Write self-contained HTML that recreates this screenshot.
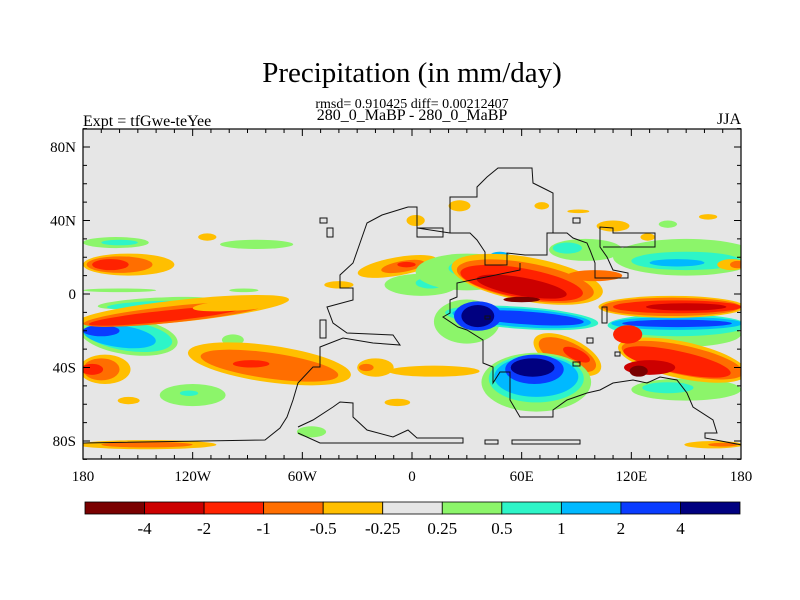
<!DOCTYPE html>
<html><head><meta charset="utf-8"><style>
body{margin:0;background:#fff;}
svg{display:block;font-family:"Liberation Serif",serif;}
</style></head><body>
<svg id="c" width="800" height="600" viewBox="0 0 800 600" xmlns="http://www.w3.org/2000/svg">
<defs><clipPath id="pc"><rect x="83" y="129" width="658" height="330"/></clipPath></defs>
<text x="412" y="82" text-anchor="middle" font-size="29">Precipitation (in mm/day)</text>
<text x="412" y="108" text-anchor="middle" font-size="14">rmsd= 0.910425 diff= 0.00212407</text>
<text x="412" y="120" text-anchor="middle" font-size="16">280_0_MaBP - 280_0_MaBP</text>
<text x="83" y="126" font-size="16">Expt = tfGwe-teYee</text>
<text x="741" y="124" text-anchor="end" font-size="16">JJA</text>
<rect x="83" y="129" width="658" height="330" fill="#e6e6e6"/>
<g id="blobs" clip-path="url(#pc)"></g>
<g id="coast" clip-path="url(#pc)" fill="none" stroke="#111" stroke-width="1"></g>
<rect x="83" y="129" width="658" height="330" fill="none" stroke="#000" stroke-width="1.2"/>
<g id="axes"></g>
<g id="cbar"></g>
</svg>
<script>
const colors=["#7a0000","#cc0000","#ff2200","#ff6e00","#ffbf00","#e6e6e6","#8cf56a","#2ef5c8","#00b9ff","#0a3cff","#000080"];
const cbarLabels=["-4","-2","-1","-0.5","-0.25","0.25","0.5","1","2","4"];
const latTicks=[80,40,0,-40,-80];
const lonTicks=[-180,-120,-60,0,60,120,180];
const lonLabels=["180","120W","60W","0","60E","120E","180"];
// anomaly blobs: [lon, lat, halfWidthDeg, halfHeightDeg, level, tiltDeg]
const blobs=[
[-162,28,18,3,6,0],[-160,28,10,1.5,7,0],
[-155,16,25,6,4,0],[-160,16,18,4.5,3,0],[-165,16,10,3,2,0],
[-160,2,20,1,6,0],[-92,2,8,1,6,0],[-112,31,5,2,4,0],[-85,27,20,2.5,6,0],
[-155,-23,27,10,6,8],[-155,-23,24,8,7,8],[-160,-23,20,6,8,8],[-170,-20,10,3,9,0],
[-140,-5,32,3,6,-3],[-145,-6,22,2,7,-3],
[-125,-9,58,6,4,-6],[-130,-11,50,4.5,3,-6],[-135,-12,42,3,2,-6],[-95,-6,25,3,4,-4],
[-98,-25,6,3,6,0],
[-78,-38,45,10,4,8],[-78,-39,38,7,3,8],[-88,-38,10,2,2,0],
[-168,-41,14,8,4,0],[-170,-41,10,6,3,0],[-175,-41,6,3,2,0],
[-120,-55,18,6,6,0],[-122,-54,5,1.5,7,0],[-155,-58,6,2,4,0],
[-145,-82,38,2.5,4,0],[-145,-82,25,1.5,3,0],
[-55,-75,8,3,6,0],[-20,-40,10,5,4,0],[-25,-40,4,2,3,0],[12,-42,25,3,4,0],[-8,-59,7,2,4,0],
[-8,15,22,5,4,-10],[-5,15,12,3,3,-10],[-3,16,5,1.5,2,0],[-40,5,8,2,4,0],
[2,40,5,3,4,0],[26,48,6,3,4,0],[71,48,4,2,4,0],[91,45,6,1,4,0],[110,37,9,3,4,0],[129,31,4,2,4,0],[140,38,5,2,6,0],[162,42,5,1.5,4,0],
[5,5,20,6,6,0],[10,6,8,3,7,0],
[30,12,28,10,6,0],[35,14,15,5,7,0],[48,20,6,3,8,0],[37,7,6,2,9,0],
[95,24,20,6,6,0],[85,25,8,3,7,0],
[150,20,40,10,6,0],[150,18,30,5,7,0],[145,17,15,2,8,0],[175,16,8,3,4,0],[178,16,4,2,3,0],
[30,-15,18,12,6,0],
[63,8,42,12,4,10],[62,7,38,10,3,10],[60,6,34,8,2,10],[60,4,25,5,1,10],[60,-3,10,1.5,0,0],[100,10,15,3,3,0],
[60,-13,42,6,7,4],[60,-13,38,5,8,4],[62,-13,32,3.5,9,4],[36,-12,13,8,9,0],[36,-12,9,6,10,0],
[145,-22,35,7,6,0],[145,-17,38,6,7,0],[145,-16,36,3.5,8,0],[145,-16,30,2,9,0],
[142,-7,40,6,4,0],[142,-7,38,5,3,0],[145,-7,35,3.5,2,0],[150,-7,22,2,1,0],
[150,-52,30,6,6,0],[140,-51,14,3,7,0],
[148,-36,36,10,4,12],[148,-36,34,8,3,12],[145,-37,30,6,2,12],[130,-40,14,4,1,0],[124,-42,5,3,0,0],
[118,-22,8,5,2,0],
[85,-33,20,9,4,25],[85,-33,17,7,3,25],[90,-33,8,3,2,25],
[68,-48,30,16,6,0],[68,-46,26,13,7,0],[68,-45,23,11,8,0],[67,-41,16,8,9,0],[66,-40,12,5,10,0],
[165,-82,16,2,4,0],[170,-82,8,1,3,0]
];
const NS="http://www.w3.org/2000/svg";
const X=lon=>412+lon*658/360, Y=lat=>294-lat*1.8375;
const sx=658/360, sy=1.8375;
const bg=document.getElementById('blobs');
blobs.forEach(b=>{
 const e=document.createElementNS(NS,'ellipse');
 const cx=X(b[0]),cy=Y(b[1]);
 e.setAttribute('cx',cx);e.setAttribute('cy',cy);
 e.setAttribute('rx',b[2]*sx);e.setAttribute('ry',b[3]*sy);
 e.setAttribute('fill',colors[b[4]]);
 if(b[5])e.setAttribute('transform','rotate('+b[5]+' '+cx+' '+cy+')');
 
 
 bg.appendChild(e);
});
const coastLines=[
"408,207 382,215 367,223 360,243 353,263 340,275 340,288 353,288 353,300 327,307 333,323 347,333 393,335 400,345 373,343 343,338 320,347 320,367 313,367 298,383 293,400 287,417 280,428 265,440 83,443",
"298,427 313,420 333,407 340,402 353,403 353,417 367,430 393,437 408,430 417,438 463,438 463,443 320,443 298,433",
"408,207 417,207 417,228 443,228 443,237 417,237 417,210",
"417,210 417,228 450,233 470,233 477,240 485,252 485,265 507,265 507,253 525,255 547,255 547,233 567,233 573,238 587,243 590,250 595,263 595,278 628,278 628,273 613,270 607,257 600,247 600,227 613,228 613,233 655,233 655,247 603,247",
"450,233 450,197 477,197 477,187 487,177 498,168 532,168 533,183 547,190 553,193 553,233",
"520,263 520,270 457,283 457,297 450,300 450,313 443,317 458,327 467,330 483,340 483,363 493,367 493,383 500,372 510,372 510,400 520,417 553,417 553,410 567,400 587,393 600,390 613,383 633,380 647,383 660,377 677,380 687,393 693,407 713,420 717,433 705,433 705,438 742,445"
];
const boxes=[[485,440,498,444],[512,440,580,444],[320,218,327,223],[327,228,333,237],[320,320,326,338],[573,218,580,223],[602,307,607,323],[485,316,490,319],[587,338,593,343],[615,352,620,356],[573,362,580,366]];
const cg=document.getElementById('coast');
coastLines.forEach(p=>{const l=document.createElementNS(NS,'polyline');l.setAttribute('points',p);
 
 
 cg.appendChild(l);});
boxes.forEach(b=>{const r=document.createElementNS(NS,'rect');r.setAttribute('x',b[0]);r.setAttribute('y',b[1]);r.setAttribute('width',b[2]-b[0]);r.setAttribute('height',b[3]-b[1]);
 
 
 cg.appendChild(r);});
const ax=document.getElementById('axes');
function line(x1,y1,x2,y2){const l=document.createElementNS(NS,'line');l.setAttribute('x1',x1);l.setAttribute('y1',y1);l.setAttribute('x2',x2);l.setAttribute('y2',y2);l.setAttribute('stroke','#000');
 
 
 ax.appendChild(l);}
for(let lat=-90;lat<=90;lat+=10){const y=Y(lat);const m=lat%40===0?7:4;line(83,y,83+m,y);line(741,y,741-m,y);}
for(let lon=-180;lon<=180;lon+=10){const x=X(lon);const m=lon%60===0?7:4;line(x,129,x,129+m);line(x,459,x,459-m);}
latTicks.forEach(v=>{const t=document.createElementNS(NS,'text');t.setAttribute('x',76);t.setAttribute('y',Y(v)+5);t.setAttribute('text-anchor','end');t.setAttribute('font-size','15');
 t.textContent=v===0?'0':Math.abs(v)+(v>0?'N':'S');
 
 
 ax.appendChild(t);});
lonTicks.forEach((v,i)=>{const t=document.createElementNS(NS,'text');t.setAttribute('x',X(v));t.setAttribute('y',481);t.setAttribute('text-anchor','middle');t.setAttribute('font-size','15');
 t.textContent=lonLabels[i];
 
 
 ax.appendChild(t);});
const cb=document.getElementById('cbar');const x0=85,w=(740-85)/11;
colors.forEach((c,i)=>{const r=document.createElementNS(NS,'rect');r.setAttribute('x',x0+i*w);r.setAttribute('y',502);r.setAttribute('width',w);r.setAttribute('height',12);r.setAttribute('fill',c);r.setAttribute('stroke','#000');r.setAttribute('stroke-width','0.8');
 
 
 cb.appendChild(r);});
cbarLabels.forEach((s,i)=>{const t=document.createElementNS(NS,'text');t.setAttribute('x',x0+(i+1)*w);t.setAttribute('y',534);t.setAttribute('text-anchor','middle');t.setAttribute('font-size','17');t.textContent=s;
 
 
 cb.appendChild(t);});
</script>
</body></html>
